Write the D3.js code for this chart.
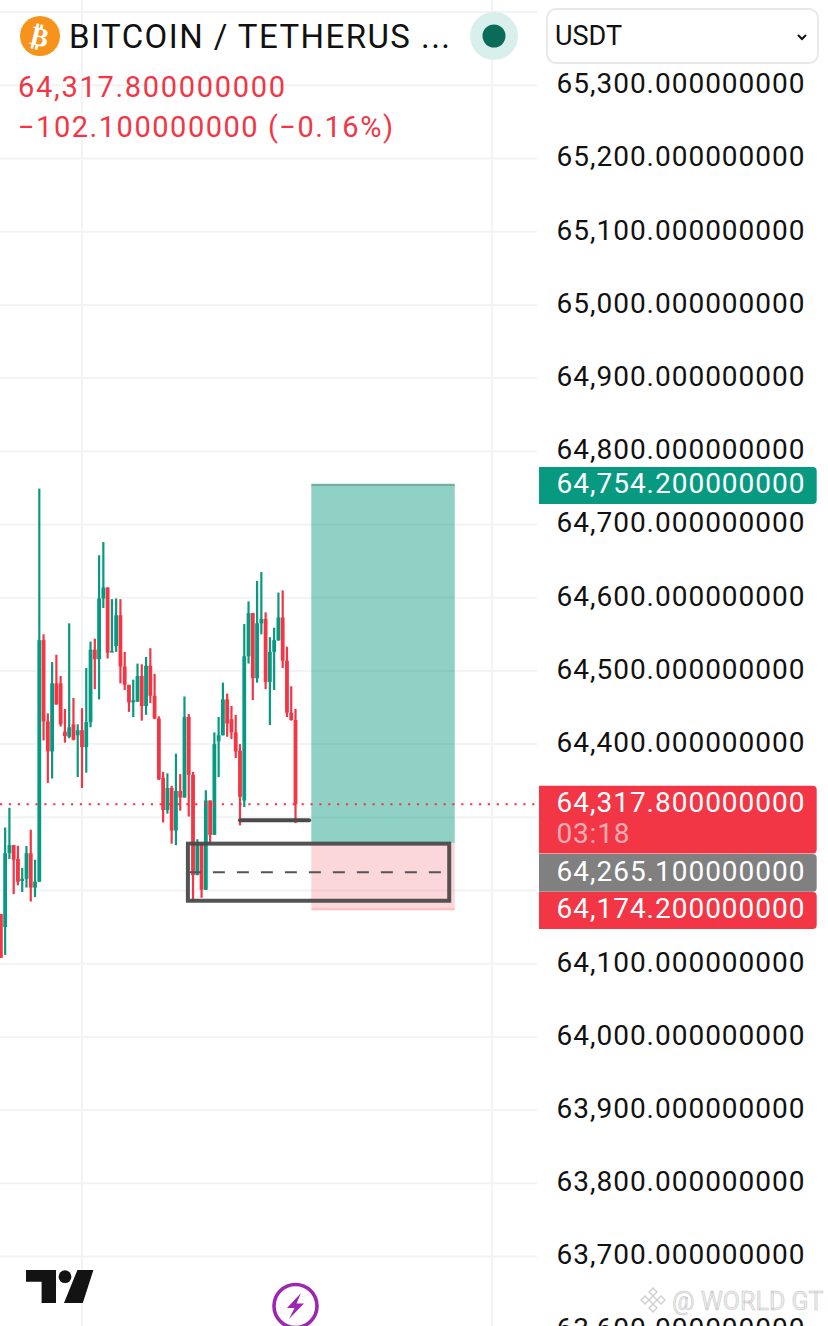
<!DOCTYPE html>
<html>
<head>
<meta charset="utf-8">
<script src="https://cdn.jsdelivr.net/npm/d3@7"></script>
<style>
  html, body { margin: 0; padding: 0; background: #fff; }
  svg { display: block; }
  text { font-family: Roboto, "Noto Sans", sans-serif; }
  .domain, .tick line { display: none; }
  .priceAxis text { font-family: Roboto, sans-serif; font-size: 28px; fill: #111; }
</style>
</head>
<body>
<svg id="chart" width="828" height="1326"></svg>
<script>
// candles left to right, first one is cut by the left edge
const firstBar = -9;
const opens = [
  64168, 64150, 64251, 64262, 64243, 64213, 64216, 64251, 64204, 64212,
  64542, 64431, 64390, 64483, 64483, 64417, 64410, 64427, 64412, 64419,
  64396, 64430, 64529, 64516, 64599, 64614, 64525, 64534, 64576, 64506,
  64481, 64457, 64458, 64493, 64452, 64507, 64466, 64435, 64354, 64310,
  64340, 64282, 64336, 64327, 64437, 64358, 64221, 64264, 64201, 64323,
  64276, 64404, 64412, 64461, 64434, 64416, 64391, 64323, 64520, 64579,
  64490, 64565, 64571, 64485, 64526, 64542, 64573, 64514, 64443, 64433];
const highs = [
  64168, 64286, 64313, 64262, 64261, 64231, 64261, 64283, 64242, 64749,
  64550, 64442, 64512, 64522, 64493, 64448, 64565, 64463, 64427, 64449,
  64504, 64540, 64544, 64658, 64676, 64614, 64598, 64599, 64598, 64526,
  64481, 64488, 64510, 64509, 64519, 64531, 64496, 64438, 64362, 64360,
  64343, 64387, 64359, 64465, 64441, 64362, 64270, 64264, 64337, 64323,
  64416, 64437, 64484, 64469, 64452, 64440, 64400, 64564, 64595, 64579,
  64623, 64635, 64580, 64546, 64559, 64607, 64610, 64533, 64479, 64448];
const lows = [
  64108, 64112, 64243, 64195, 64207, 64198, 64204, 64185, 64191, 64212,
  64405, 64347, 64353, 64454, 64424, 64402, 64408, 64405, 64355, 64340,
  64361, 64423, 64475, 64461, 64586, 64517, 64526, 64526, 64483, 64474,
  64444, 64437, 64458, 64432, 64440, 64456, 64434, 64351, 64293, 64305,
  64264, 64262, 64309, 64327, 64301, 64185, 64221, 64190, 64201, 64264,
  64276, 64355, 64412, 64410, 64407, 64381, 64289, 64314, 64510, 64460,
  64484, 64550, 64475, 64426, 64474, 64541, 64504, 64437, 64432, 64292];
const closes = [
  64108, 64251, 64262, 64242, 64212, 64216, 64251, 64204, 64212, 64542,
  64431, 64390, 64483, 64454, 64427, 64411, 64423, 64406, 64419, 64396,
  64430, 64529, 64516, 64599, 64614, 64525, 64527, 64576, 64506, 64481,
  64457, 64460, 64493, 64452, 64507, 64466, 64435, 64352, 64310, 64340,
  64282, 64336, 64327, 64437, 64358, 64221, 64264, 64201, 64323, 64276,
  64400, 64412, 64461, 64428, 64416, 64390, 64328, 64520, 64579, 64490,
  64565, 64571, 64485, 64526, 64542, 64573, 64514, 64443, 64433, 64317.8];

const priceTicks = [65300, 65200, 65100, 65000, 64900, 64800, 64700, 64600, 64500, 64400,
  64100, 64000, 63900, 63800, 63700, 63600];
const gridPrices = d3.range(63700, 65500, 100);
const gridBars = [10, 106];

// long position tool
const lastPrice = 64317.8;
const targetPrice = 64754.2;
const entryPrice = 64265.1;
const stopPrice = 64174.2;
const toolBars = [63.7, 97.3];
// rectangle drawn by hand on the chart
const boxBars = [34.8, 96];
const boxPrices = [64264, 64186];
const boxMid = 64225;
const swingBars = [47, 63.2];
const swingPrice = 64296;

const green = '#089981';
const red = '#F23645';
const fmt = d3.format(',.9f');

const svg = d3.select('#chart');
const x = d3.scaleLinear().domain([0, 60]).range([39.3, 295.5]);
const y = d3.scaleLinear().domain([64300, 65300]).range([817.3, 85.3]);
const plotRight = 537;

// grid
const grid = svg.append('g').attr('stroke', '#f2f3f5').attr('stroke-width', 2);
grid.selectAll('.h').data(gridPrices).enter().append('line')
  .attr('x1', 0).attr('x2', plotRight).attr('y1', d => y(d)).attr('y2', d => y(d));
grid.selectAll('.v').data(gridBars).enter().append('line')
  .attr('x1', d => x(d)).attr('x2', d => x(d)).attr('y1', 0).attr('y2', 1326);

// candles
const bars = opens.map((o, i) => ({ i: i + firstBar, o, h: highs[i], l: lows[i], c: closes[i] }));
const colour = d => (d.c >= d.o ? green : red);
const candles = svg.append('g');
candles.selectAll('.wick').data(bars).enter().append('rect')
  .attr('x', d => x(d.i) - 1.1).attr('width', 2.2)
  .attr('y', d => y(d.h)).attr('height', d => y(d.l) - y(d.h))
  .attr('fill', colour);
candles.selectAll('.body').data(bars).enter().append('rect')
  .attr('x', d => x(d.i) - 1.9).attr('width', 3.8)
  .attr('y', d => y(Math.max(d.o, d.c)))
  .attr('height', d => Math.max(1, Math.abs(y(d.o) - y(d.c))))
  .attr('fill', colour);

// position tool
svg.append('rect')
  .attr('x', x(toolBars[0])).attr('width', x(toolBars[1]) - x(toolBars[0]))
  .attr('y', y(targetPrice)).attr('height', y(entryPrice) - y(targetPrice))
  .attr('fill', green).attr('fill-opacity', 0.45);
svg.append('rect')
  .attr('x', x(toolBars[0])).attr('width', x(toolBars[1]) - x(toolBars[0]))
  .attr('y', y(entryPrice)).attr('height', y(stopPrice) - y(entryPrice))
  .attr('fill', red).attr('fill-opacity', 0.2);
svg.append('line')
  .attr('x1', x(toolBars[0])).attr('x2', x(toolBars[1]))
  .attr('y1', y(targetPrice)).attr('y2', y(targetPrice))
  .attr('stroke', '#4d8f82').attr('stroke-opacity', 0.7).attr('stroke-width', 2);
svg.append('line')
  .attr('x1', x(toolBars[0])).attr('x2', x(toolBars[1]))
  .attr('y1', y(stopPrice)).attr('y2', y(stopPrice))
  .attr('stroke', red).attr('stroke-opacity', 0.25).attr('stroke-width', 2);

// last price line
svg.append('line')
  .attr('x1', 0).attr('x2', plotRight)
  .attr('y1', y(lastPrice)).attr('y2', y(lastPrice))
  .attr('stroke', red).attr('stroke-width', 2.2).attr('stroke-dasharray', '2.2 6.67');

// drawings
svg.append('rect')
  .attr('x', x(boxBars[0])).attr('width', x(boxBars[1]) - x(boxBars[0]))
  .attr('y', y(boxPrices[0])).attr('height', y(boxPrices[1]) - y(boxPrices[0]))
  .attr('fill', 'none').attr('stroke', '#4a4a4a').attr('stroke-width', 4).attr('stroke-opacity', 0.95);
svg.append('line')
  .attr('x1', x(boxBars[0])).attr('x2', x(boxBars[1]))
  .attr('y1', y(boxMid)).attr('y2', y(boxMid))
  .attr('stroke', '#555').attr('stroke-width', 2).attr('stroke-dasharray', '12 12')
  .attr('stroke-dashoffset', -1);
svg.append('line')
  .attr('x1', x(swingBars[0])).attr('x2', x(swingBars[1]))
  .attr('y1', y(swingPrice)).attr('y2', y(swingPrice))
  .attr('stroke', '#4a4a4a').attr('stroke-width', 4).attr('stroke-linecap', 'round');

// price scale
svg.append('rect').attr('x', plotRight).attr('y', 0).attr('width', 291).attr('height', 1326).attr('fill', '#fff');
const axis = d3.axisRight(y).tickValues(priceTicks).tickFormat(fmt).tickSize(0).tickPadding(0);
const axisG = svg.append('g').attr('class', 'priceAxis').attr('transform', 'translate(556.5,-1.6)').call(axis);
axisG.selectAll('text').attr('textLength', 248).attr('lengthAdjust', 'spacing');

const tag = (top, bottom, fill) => {
  const r = 4, l = 539, w = 816.7;
  svg.append('path')
    .attr('d', `M${l},${top}H${w - r}Q${w},${top} ${w},${top + r}V${bottom - r}Q${w},${bottom} ${w - r},${bottom}H${l}Z`)
    .attr('fill', fill);
};
const tagText = (baseline, str, opacity) => svg.append('text')
  .attr('x', 556.5).attr('y', baseline).attr('fill', '#fff').attr('fill-opacity', opacity || 1)
  .attr('font-size', 28).attr('textLength', str.length > 6 ? 248 : 73).text(str);

tag(467, 504, green);
tagText(493, fmt(targetPrice));
tag(785.7, 853.6, red);
tagText(812, fmt(lastPrice));
tagText(843, '03:18', 0.6);
tag(854, 891.7, '#808080');
tagText(881, fmt(entryPrice));
tag(892, 929, red);
tagText(918, fmt(stopPrice));

// header
svg.append('circle').attr('cx', 40).attr('cy', 36).attr('r', 20).attr('fill', '#F7931A');
svg.append('text').attr('x', 40).attr('y', 46).attr('text-anchor', 'middle')
  .attr('transform', 'rotate(14 40 36)')
  .attr('font-weight', 'bold')
  .attr('font-size', 27).attr('fill', '#fff').style('font-family', '"DejaVu Sans"').text('₿');
svg.append('text').attr('x', 69).attr('y', 48).attr('font-size', 33).attr('fill', '#111')
  .attr('textLength', 381).text('BITCOIN / TETHERUS ...');
svg.append('circle').attr('cx', 494).attr('cy', 36).attr('r', 24).attr('fill', '#d9efec');
svg.append('circle').attr('cx', 494).attr('cy', 36).attr('r', 11.5).attr('fill', '#0a6b58');
svg.append('text').attr('x', 18).attr('y', 97).attr('font-size', 29).attr('fill', red)
  .attr('textLength', 267).text(fmt(lastPrice));
svg.append('text').attr('x', 18).attr('y', 137).attr('font-size', 29).attr('fill', red)
  .attr('textLength', 375).text('−102.100000000 (−0.16%)');

// currency select
svg.append('rect').attr('x', 547).attr('y', 9).attr('width', 271).attr('height', 54).attr('rx', 9)
  .attr('fill', '#fff').attr('stroke', '#e6e8ea').attr('stroke-width', 2);
svg.append('text').attr('x', 555).attr('y', 45).attr('font-size', 27).attr('fill', '#111').text('USDT');
svg.append('path').attr('d', 'M798,35l4,4l4,-4').attr('fill', 'none').attr('stroke', '#111').attr('stroke-width', 2);

// TradingView logo
svg.append('path').attr('fill', '#131313')
  .attr('d', 'M26,1270H56V1303H41.6V1281.7H26Z M77.4,1270H93.4L82.8,1303H64Z');
svg.append('circle').attr('cx', 65).attr('cy', 1276.7).attr('r', 6.4).attr('fill', '#131313');

// lightning badge
svg.append('circle').attr('cx', 295.5).attr('cy', 1306).attr('r', 21.5)
  .attr('fill', '#fff').attr('stroke', '#9c27b0').attr('stroke-width', 3.6);
svg.append('path').attr('fill', '#9c27b0')
  .attr('d', 'M301,1293L287,1308H294.5L289,1319L304,1303.5H296.5Z');

// watermark
const mark = svg.append('g').attr('fill', 'none').attr('stroke', '#cfcfcf').attr('stroke-width', 1.3);
[[653, 1292], [645, 1300], [661, 1300], [653, 1300], [653, 1308]].forEach(p => {
  mark.append('path').attr('d', `M${p[0]},${p[1] - 4}l4,4l-4,4l-4,-4Z`);
});
svg.append('text').attr('x', 672).attr('y', 1310).attr('font-size', 25).attr('fill', '#ececec')
  .attr('stroke', '#c4c4c4').attr('stroke-width', 0.5).text('@ WORLD GT');
</script>
</body>
</html>
